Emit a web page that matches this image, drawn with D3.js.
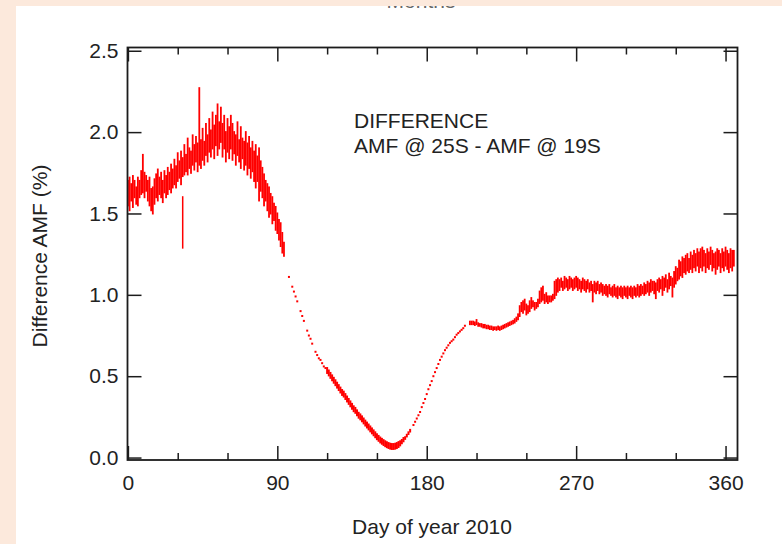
<!DOCTYPE html>
<html>
<head>
<meta charset="utf-8">
<script src="https://cdn.jsdelivr.net/npm/d3@7"></script>
<style>
  body { margin: 0; background: #fce9dc; }
  svg { display: block; }
  text { font-family: "Liberation Sans", Arial, sans-serif; }
</style>
</head>
<body>
<svg id="amfSvg" width="782" height="544"></svg>
<script>
// ---- data (day of year, low / high of the daily spread) ----
const springDays = [0,1,2,3,4,5,6,7,8,9,10,11,12,13,14,15,16,17,18,19,20,21,22,23,24,25,26,27,28,29,
  30,31,32,33,34,35,36,37,38,39,40,41,42,43,44,45,46,47,48,49,50,51,52,53,54,55,56,57,58,59,
  60,61,62,63,64,65,66,67,68,69,70,71,72,73,74,75,76,77,78,79,80,81,82,83,84,85,86,87,88,89,
  90,91,92,93,94];
const springLow = [1.55,1.52,1.58,1.54,1.60,1.56,1.55,1.60,1.62,1.63,
  1.60,1.64,1.58,1.55,1.52,1.50,1.56,1.60,1.58,1.62,
  1.60,1.57,1.63,1.60,1.62,1.65,1.63,1.66,1.68,1.66,
  1.70,1.72,1.68,1.73,1.74,1.76,1.74,1.78,1.75,1.80,
  1.77,1.82,1.76,1.80,1.78,1.83,1.80,1.86,1.82,1.88,
  1.85,1.90,1.84,1.92,1.86,1.90,1.94,1.85,1.90,1.82,
  1.88,1.84,1.90,1.83,1.87,1.80,1.86,1.82,1.78,1.84,
  1.77,1.80,1.74,1.78,1.72,1.76,1.70,1.66,1.70,1.58,
  1.64,1.60,1.55,1.58,1.52,1.48,1.50,1.44,1.46,1.40,
  1.38,1.34,1.30,1.26,1.24];
const springHigh = [1.70,1.72,1.68,1.73,1.70,1.66,1.72,1.70,1.76,1.86,
  1.75,1.73,1.70,1.72,1.65,1.66,1.71,1.74,1.77,1.72,
  1.75,1.70,1.76,1.73,1.78,1.75,1.80,1.77,1.83,1.79,
  1.87,1.82,1.88,1.84,1.92,1.86,1.96,1.90,1.88,1.98,
  1.92,1.97,1.93,2.27,1.95,2.02,1.94,2.05,1.98,2.08,
  2.01,2.12,2.04,2.10,2.17,2.06,2.15,2.05,2.10,2.00,
  2.08,2.03,2.10,2.05,2.00,1.98,2.06,1.95,2.03,1.96,
  1.94,2.00,1.93,1.97,1.90,1.94,1.88,1.92,1.85,1.90,
  1.82,1.78,1.74,1.70,1.68,1.66,1.62,1.60,1.56,1.54,
  1.50,1.46,1.44,1.38,1.32];

// lone low spike near day 33
const outlierDays = [33];
const outlierLow = [1.29];
const outlierHigh = [1.60];

const dipDays = [97,99,100,101,102,104,105,106,108,109,110,111,113,114,115,116,117,118,119,
  120,121,122,123,124,125,126,127,128,129,130,131,132,133,134,135,136,137,138,139,
  140,141,142,143,144,145,146,147,148,149,150,151,152,153,154,155,156,157,158,159,
  160,161,162,163,164,165,166,167,168,169,170,
  172,173,174,175,176,177,178,179,180,181,182,183,184,185,186,187,188,189,190,191,
  192,193,194,195,196,197,198,199,200,201,202,203];
const dipLow = [1.11,1.05,1.02,0.99,0.96,0.90,0.87,0.84,0.78,0.75,0.73,0.70,0.65,0.63,0.61,0.60,0.58,0.56,0.55,
  0.52,0.505,0.49,0.475,0.46,0.445,0.43,0.415,0.40,0.385,0.375,0.36,0.345,0.33,0.315,0.30,0.285,0.275,0.26,0.245,
  0.235,0.223,0.21,0.197,0.185,0.173,0.161,0.149,0.137,0.125,0.113,0.103,0.093,0.085,0.077,0.07,0.064,0.059,0.055,0.053,
  0.053,0.055,0.059,0.065,0.075,0.088,0.10,0.115,0.13,0.145,0.16,
  0.20,0.22,0.24,0.26,0.28,0.31,0.335,0.36,0.39,0.42,0.445,0.47,0.50,0.525,0.55,0.575,0.60,0.62,0.64,0.66,
  0.675,0.69,0.705,0.715,0.725,0.74,0.755,0.765,0.775,0.785,0.795,0.81];
const dipHigh = [1.11,1.05,1.02,0.99,0.96,0.90,0.87,0.84,0.78,0.75,0.73,0.70,0.65,0.63,0.61,0.60,0.58,0.56,0.55,
  0.55,0.535,0.52,0.505,0.49,0.475,0.46,0.445,0.43,0.415,0.405,0.39,0.375,0.36,0.345,0.33,0.315,0.305,0.29,0.275,
  0.265,0.253,0.24,0.227,0.215,0.203,0.191,0.179,0.167,0.155,0.143,0.133,0.123,0.115,0.107,0.10,0.094,0.089,0.085,0.083,
  0.083,0.085,0.089,0.095,0.10,0.108,0.12,0.125,0.14,0.155,0.17,
  0.20,0.22,0.24,0.26,0.28,0.31,0.335,0.36,0.39,0.42,0.445,0.47,0.50,0.525,0.55,0.575,0.60,0.62,0.64,0.66,
  0.675,0.69,0.705,0.715,0.725,0.74,0.755,0.765,0.775,0.785,0.795,0.81];

const autumnDays = [206,207,208,209,210,211,212,213,214,215,216,217,218,219,220,221,222,223,224,225,
  226,227,228,229,230,231,232,233,234,235,236,237,238,239,240,241,242,243,244,245,
  246,247,248,249,250,251,252,253,254,255,256,257,258,259,
  260,261,262,263,264,265,266,267,268,269,270,271,272,273,274,275,276,277,278,279,
  280,281,282,283,284,285,286,287,288,289,290,291,292,293,294,295,296,297,298,299,
  300,301,302,303,304,305,306,307,308,309,310,311,312,313,314,315,316,317,318,319,
  320,321,322,323,324,325,326,327,328,329,330,331,332,333,334,335,336,337,338,339,
  340,341,342,343,344,345,346,347,348,349,350,351,352,353,354,355,356,357,358,359,
  360,361,362,363,364,365];
const autumnLow = [0.82,0.82,0.82,0.815,0.82,0.81,0.81,0.805,0.80,0.80,0.795,0.795,0.79,0.79,0.785,0.79,0.785,0.79,0.785,0.79,
  0.795,0.80,0.805,0.81,0.815,0.82,0.825,0.83,0.84,0.85,0.87,0.90,0.89,0.91,0.88,0.89,0.90,0.92,0.93,0.91,
  0.92,0.93,0.95,0.96,0.97,0.95,0.96,0.95,0.96,0.96,0.97,0.98,1.00,1.02,
  1.03,1.05,1.03,1.04,1.05,1.03,1.04,1.05,1.03,1.04,
  1.05,1.03,1.04,1.02,1.04,1.03,1.02,1.04,1.02,1.03,
  0.96,1.02,1.01,1.03,1.01,1.02,1.00,1.01,1.00,0.99,
  1.01,1.00,0.99,1.00,0.99,0.98,1.00,0.99,0.98,1.00,
  0.99,0.98,1.00,0.99,0.98,1.00,0.99,1.00,0.99,1.00,
  1.01,1.00,1.01,1.02,1.00,1.02,1.03,1.01,0.98,1.03,
  1.02,1.04,1.00,1.03,1.05,1.02,1.04,1.06,0.99,1.05,
  1.07,1.09,1.10,1.12,1.11,1.14,1.13,1.15,1.14,1.16,
  1.14,1.17,1.15,1.18,1.14,1.17,1.15,1.18,1.14,1.17,
  1.16,1.19,1.15,1.17,1.13,1.16,1.18,1.14,1.17,1.15,
  1.18,1.16,1.14,1.17,1.15,1.18];
const autumnHigh = [0.835,0.835,0.835,0.83,0.845,0.825,0.82,0.82,0.815,0.815,0.81,0.81,0.805,0.805,0.80,0.80,0.80,0.805,0.80,0.805,
  0.81,0.815,0.82,0.825,0.83,0.835,0.84,0.85,0.86,0.88,0.93,0.95,0.96,0.97,0.94,0.93,0.96,0.98,0.96,0.95,
  0.95,0.97,1.02,1.04,1.05,1.00,1.01,0.99,0.99,0.99,1.00,1.08,1.09,1.10,
  1.09,1.10,1.08,1.11,1.10,1.09,1.11,1.10,1.09,1.10,
  1.11,1.10,1.09,1.08,1.10,1.09,1.08,1.09,1.07,1.08,
  1.06,1.08,1.07,1.08,1.06,1.07,1.06,1.05,1.06,1.05,
  1.06,1.04,1.05,1.06,1.04,1.05,1.04,1.05,1.04,1.05,
  1.04,1.05,1.04,1.05,1.04,1.05,1.04,1.06,1.05,1.06,
  1.05,1.07,1.06,1.08,1.07,1.09,1.08,1.08,1.07,1.09,
  1.10,1.09,1.11,1.10,1.12,1.09,1.13,1.11,1.10,1.14,
  1.17,1.16,1.21,1.20,1.23,1.22,1.24,1.25,1.22,1.26,
  1.24,1.27,1.25,1.28,1.26,1.28,1.29,1.27,1.25,1.28,
  1.26,1.29,1.27,1.25,1.26,1.28,1.27,1.25,1.28,1.26,
  1.29,1.27,1.25,1.28,1.27,1.27];

const xMajorTicks = [0, 90, 180, 270, 360];
const xMinorTicks = [30, 60, 120, 150, 210, 240, 300, 330];
const yTicks = [0, 0.5, 1.0, 1.5, 2.0, 2.5];
const noteLines = ["DIFFERENCE", "AMF @ 25S - AMF @ 19S"];

const frame = { left: 127.5, right: 737.5, top: 47.5, bottom: 460 };
const tickColor = "#1c1c1c";
const fontSize = "21px";

const svgEl = d3.select("#amfSvg");

// page backdrop + white panel
svgEl.append("rect").attr("width", 782).attr("height", 544).attr("fill", "#fce9dc");
svgEl.append("rect").attr("x", 16).attr("y", 6).attr("width", 766).attr("height", 538).attr("fill", "#fff");

// title of the original figure is cut off above the panel
svgEl.append("clipPath").attr("id", "panelClip")
  .append("rect").attr("x", 16).attr("y", 6).attr("width", 766).attr("height", 538);
svgEl.append("text")
  .attr("clip-path", "url(#panelClip)")
  .attr("x", 421).attr("y", 7.5)
  .attr("text-anchor", "middle")
  .attr("font-size", fontSize)
  .attr("fill", "#666")
  .text("Months");

const xScale = d3.scaleLinear().domain([-0.25, 367.2]).range([frame.left, frame.right]);
const yScale = d3.scaleLinear().domain([-0.015, 2.52]).range([frame.bottom, frame.top]);

// daily spread bars
function drawSpread(days, lows, highs, barWidth) {
  const rows = days.map((d, i) => ({ day: d, lo: lows[i], hi: highs[i] }));
  svgEl.append("g")
    .selectAll("rect")
    .data(rows)
    .enter()
    .append("rect")
    .attr("x", d => xScale(d.day) - barWidth / 2)
    .attr("y", d => yScale(d.hi) - 1)
    .attr("width", barWidth)
    .attr("height", d => yScale(d.lo) - yScale(d.hi) + 2)
    .attr("fill", "#ff0000");
}

drawSpread(springDays, springLow, springHigh, 1.8);
drawSpread(outlierDays, outlierLow, outlierHigh, 1.5);
drawSpread(dipDays, dipLow, dipHigh, 2);
drawSpread(autumnDays, autumnLow, autumnHigh, 1.8);

// axes - all ticks point inward
function styleAxis(g) {
  g.select(".domain").remove();
  g.selectAll("line").attr("stroke", tickColor).attr("stroke-width", 1.5);
  g.selectAll("text").attr("fill", "#222").attr("font-size", fontSize)
    .attr("font-family", "'Liberation Sans', Arial, sans-serif");
}

const bottomMajor = svgEl.append("g")
  .attr("transform", `translate(0, ${frame.bottom})`)
  .call(d3.axisBottom(xScale).tickValues(xMajorTicks).tickSizeInner(-14).tickSizeOuter(0)
    .tickPadding(15).tickFormat(d3.format("d")));
styleAxis(bottomMajor);

const bottomMinor = svgEl.append("g")
  .attr("transform", `translate(0, ${frame.bottom})`)
  .call(d3.axisBottom(xScale).tickValues(xMinorTicks).tickSizeInner(-7).tickSizeOuter(0).tickFormat(""));
styleAxis(bottomMinor);

const topMajor = svgEl.append("g")
  .attr("transform", `translate(0, ${frame.top})`)
  .call(d3.axisTop(xScale).tickValues(xMajorTicks).tickSizeInner(-14).tickSizeOuter(0).tickFormat(""));
styleAxis(topMajor);

const topMinor = svgEl.append("g")
  .attr("transform", `translate(0, ${frame.top})`)
  .call(d3.axisTop(xScale).tickValues(xMinorTicks).tickSizeInner(-7).tickSizeOuter(0).tickFormat(""));
styleAxis(topMinor);

const leftAxis = svgEl.append("g")
  .attr("transform", `translate(${frame.left}, 0)`)
  .call(d3.axisLeft(yScale).tickValues(yTicks).tickSizeInner(-14).tickSizeOuter(0)
    .tickPadding(9).tickFormat(d3.format(".1f")));
styleAxis(leftAxis);

const rightAxis = svgEl.append("g")
  .attr("transform", `translate(${frame.right}, 0)`)
  .call(d3.axisRight(yScale).tickValues(yTicks).tickSizeInner(-14).tickSizeOuter(0).tickFormat(""));
styleAxis(rightAxis);

// box
svgEl.append("rect")
  .attr("x", frame.left).attr("y", frame.top)
  .attr("width", frame.right - frame.left).attr("height", frame.bottom - frame.top)
  .attr("fill", "none").attr("stroke", tickColor).attr("stroke-width", 1.8);

// axis titles
svgEl.append("text")
  .attr("transform", "rotate(-90)")
  .attr("x", -256).attr("y", 47)
  .attr("text-anchor", "middle")
  .attr("font-size", fontSize).attr("fill", "#222")
  .text("Difference AMF (%)");

svgEl.append("text")
  .attr("x", 432).attr("y", 534)
  .attr("text-anchor", "middle")
  .attr("font-size", fontSize).attr("fill", "#222")
  .text("Day of year 2010");

// note inside plot
svgEl.append("g")
  .selectAll("text")
  .data(noteLines)
  .enter()
  .append("text")
  .attr("x", 354)
  .attr("y", (d, i) => 128 + i * 25)
  .attr("font-size", fontSize).attr("fill", "#222")
  .text(d => d);
</script>
</body>
</html>
